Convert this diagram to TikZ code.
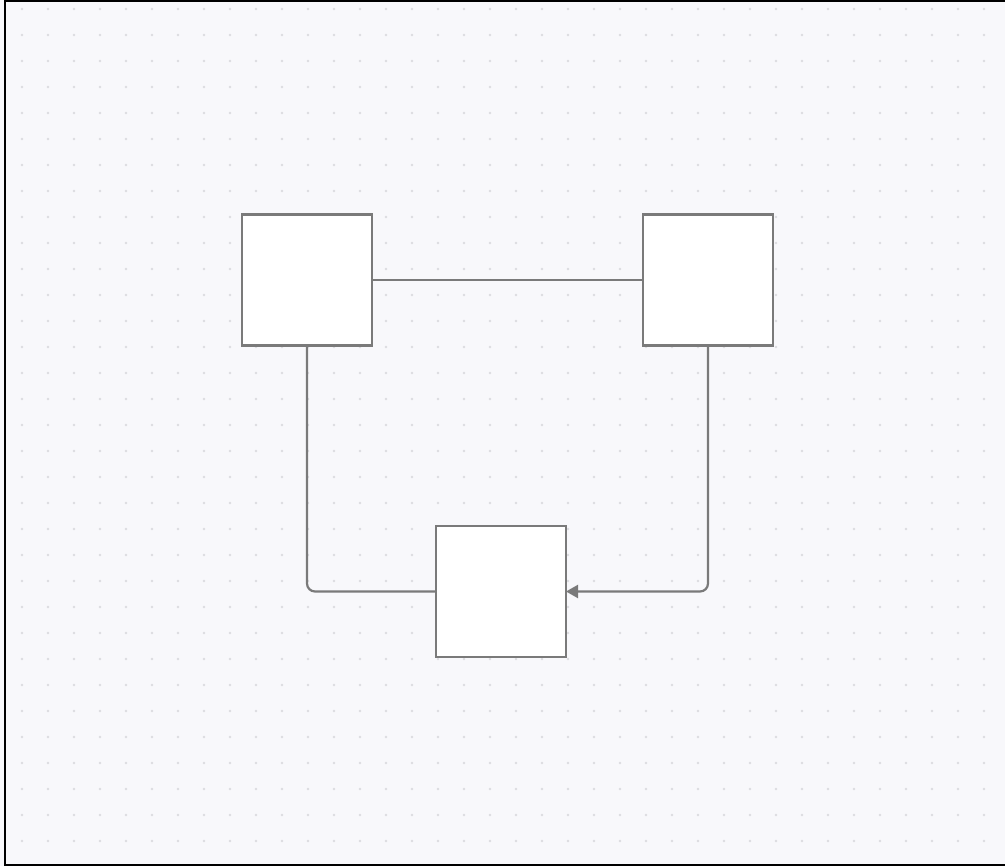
\documentclass[tikz,border=0pt]{standalone}
\usetikzlibrary{arrows.meta}
\definecolor{bgc}{HTML}{F8F8FB}
\definecolor{dotc}{HTML}{DCDCE0}
\definecolor{linec}{HTML}{7A7A7A}
\begin{document}
\begin{tikzpicture}[x=1pt,y=-1pt,
  boxnode/.style={draw=linec,line width=2.2pt,fill=white,minimum width=130pt,minimum height=131pt,inner sep=0pt,outer sep=0pt},
  conn/.style={draw=linec,line width=2.2pt,rounded corners=8pt}]
\useasboundingbox (0,0) rectangle (1005,866);
\fill[bgc] (0,0) rectangle (1005,866);
\foreach \i in {0,...,37}{
  \foreach \j in {0,...,33}{
    \fill[dotc] (22+26*\i,9+26*\j) circle (1.3pt);
  }
}
\draw[black,line width=2pt] (4.5,866) -- (4.5,1) -- (1005,1);
\draw[black,line width=2pt] (4.5,864.5) -- (1005,864.5);
\node[boxnode] (a) at (307,280) {};
\node[boxnode] (b) at (708,280) {};
\node[boxnode] (c) at (501,591.5) {};
\draw[conn] (a.east) -- (b.west);
\draw[conn] (a.south) |- (c.west);
\draw[conn,-{Triangle[length=12pt,width=13pt]}] (b.south) |- (c.east);
\end{tikzpicture}
\end{document}
